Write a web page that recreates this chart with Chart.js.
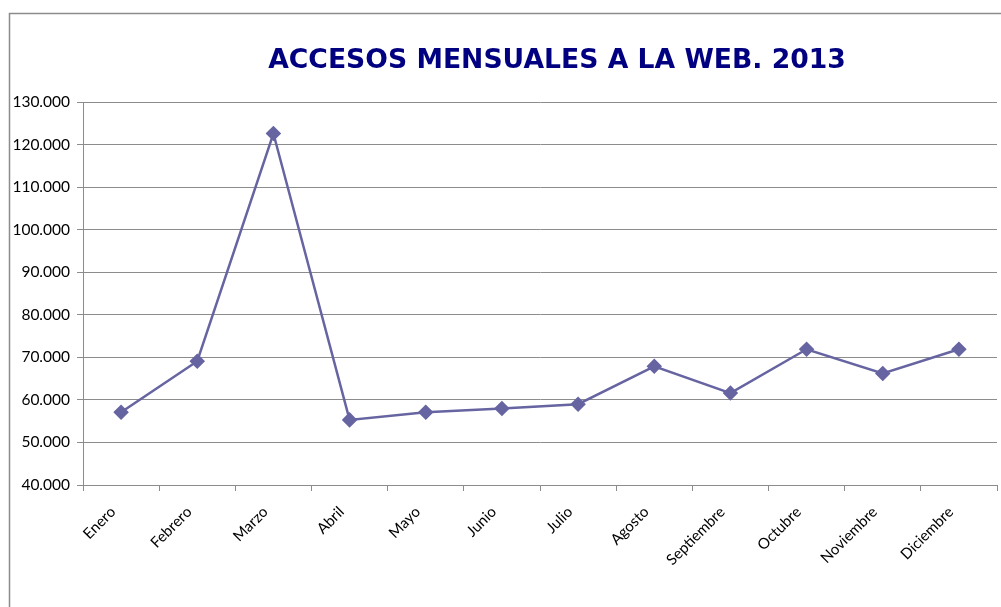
<!DOCTYPE html>
<html>
<head>
<meta charset="utf-8">
<script src="https://cdn.jsdelivr.net/npm/chart.js@4"></script>
<style>
  html, body { margin: 0; padding: 0; background: #fff; }
  #wrap { position: relative; width: 1001px; height: 607px; }
</style>
</head>
<body>
<div id="wrap"><canvas id="grafico"></canvas></div>
<script>
const meses = ['Enero', 'Febrero', 'Marzo', 'Abril', 'Mayo', 'Junio', 'Julio', 'Agosto', 'Septiembre', 'Octubre', 'Noviembre', 'Diciembre'];
const accesos = [57100, 69100, 122600, 55300, 57100, 58000, 59000, 67900, 61600, 71900, 66200, 71900];
const titulo = 'ACCESOS MENSUALES A LA WEB. 2013';

const fmt = v => v.toLocaleString('de-DE', { minimumFractionDigits: 0 }).replace(/,/g, '.');

// marco del grafico + titulo
const marcoPlugin = {
  id: 'marco',
  beforeDraw(chart) {
    const ctx = chart.ctx;
    ctx.save();
    ctx.strokeStyle = '#8c8c8c';
    ctx.lineWidth = 1.5;
    ctx.beginPath();
    ctx.moveTo(9.5, 607);
    ctx.lineTo(9.5, 13.5);
    ctx.lineTo(1001, 13.5);
    ctx.stroke();

    ctx.fillStyle = '#000080';
    ctx.textAlign = 'center';
    ctx.textBaseline = 'alphabetic';
    ctx.font = 'bold 100px "DejaVu Sans"';
    const w = ctx.measureText(titulo).width;
    const size = 100 * 578 / w;
    ctx.font = `bold ${size}px "DejaVu Sans"`;
    ctx.fillText(titulo, 557, 68);
    ctx.restore();
  }
};

new Chart(document.getElementById('grafico').getContext('2d'), {
  type: 'line',
  data: {
    labels: meses,
    datasets: [{
      data: accesos,
      borderColor: '#6664a1',
      backgroundColor: '#6664a1',
      borderWidth: 2.5,
      pointStyle: 'rectRot',
      pointRadius: 6,
      pointHoverRadius: 6,
      tension: 0
    }]
  },
  options: {
    responsive: true,
    maintainAspectRatio: false,
    animation: false,
    layout: { autoPadding: false, padding: { top: 102, right: 4, left: 0, bottom: 0 } },
    plugins: {
      legend: { display: false },
      tooltip: { enabled: false }
    },
    scales: {
      x: {
        offset: true,
        afterFit(scale) {
          scale.height = 122;
          scale.paddingLeft = 0;
          scale.paddingRight = 0;
        },
        grid: {
          offset: true,
          drawOnChartArea: false,
          drawTicks: true,
          tickLength: 6,
          color: '#8c8c8c'
        },
        border: { color: '#8c8c8c', width: 1 },
        ticks: {
          minRotation: 45,
          maxRotation: 45,
          padding: 12,
          labelOffset: -8,
          color: '#000',
          font: { family: 'Lato', size: 15 }
        }
      },
      y: {
        min: 40000,
        max: 130000,
        afterFit(scale) { scale.width = 83; },
        grid: {
          color: '#8c8c8c',
          tickLength: 6,
          lineWidth: 1
        },
        border: { color: '#8c8c8c', width: 1 },
        ticks: {
          stepSize: 10000,
          padding: 7,
          color: '#000',
          font: { family: 'Lato', size: 15.5 },
          callback: v => fmt(v)
        }
      }
    }
  },
  plugins: [marcoPlugin]
});
</script>
</body>
</html>
